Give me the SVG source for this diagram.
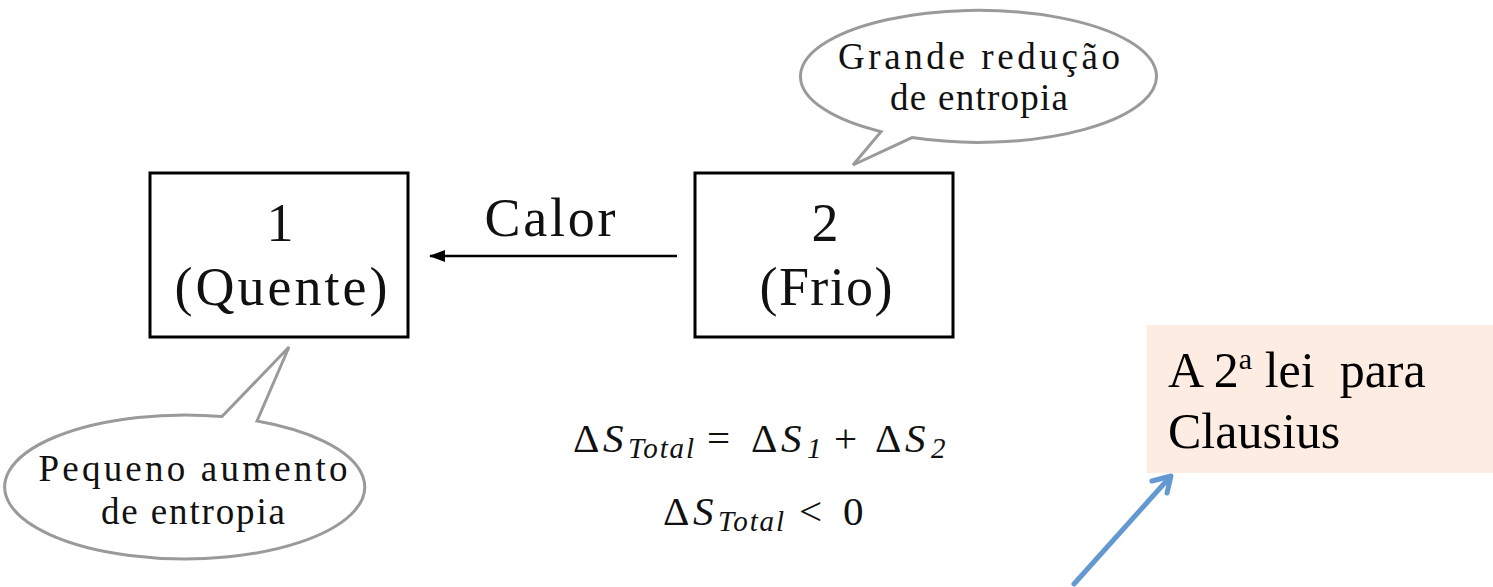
<svg xmlns="http://www.w3.org/2000/svg" width="1493" height="587" viewBox="0 0 1493 587">
<style>
.box{fill:#fff;stroke:#000;stroke-width:3}
.call{fill:#fff;stroke:#9a9a9a;stroke-width:3;stroke-linejoin:miter}
.t{font-family:"Liberation Serif","DejaVu Serif",serif;fill:#111;text-anchor:middle}
.big{font-size:54px}
.mid{font-size:37px}
.eq{font-family:"Liberation Serif","DejaVu Serif",serif;fill:#111;font-size:41px}
.it{font-style:italic}
.sub{font-size:29px;font-style:italic}
.note{font-family:"Liberation Serif","DejaVu Serif",serif;fill:#000;font-size:50px;white-space:pre}
</style>
<defs>
<marker id="ah" markerWidth="16" markerHeight="12" refX="15" refY="6" orient="auto" markerUnits="userSpaceOnUse">
<path d="M0,0 L16,6 L0,12 Z" fill="#000"/>
</marker>
</defs>
<rect width="1493" height="587" fill="#fff"/>

<g id="connectors">
<line x1="677" y1="256" x2="430" y2="256" stroke="#000" stroke-width="2.5" marker-end="url(#ah)"/>
<g id="blue-arrow" stroke="#6398D0" stroke-width="5" fill="none" stroke-linecap="round" stroke-linejoin="round">
<line x1="1074" y1="584" x2="1170" y2="477"/>
<polyline points="1152,481 1171,476 1167,493"/>
</g>
</g>

<g id="callout-top">
<path class="call" d="M 912 137.6 A 178 66 0 1 0 881 131.6 L 853 165 Z"/>
<text class="t mid" x="979" y="69" textLength="282">Grande redução</text>
<text class="t mid" x="979" y="110" textLength="178">de entropia</text>
</g>

<g id="callout-bottom">
<path class="call" d="M 257 421 A 180 72 0 1 1 222 416.5 L 289 347 Z"/>
<text class="t mid" x="193" y="481" textLength="309">Pequeno aumento</text>
<text class="t mid" x="193" y="524" textLength="184">de entropia</text>
</g>

<g id="node1">
<rect class="box" x="150" y="173" width="258" height="164"/>
<text class="t big" x="280" y="241">1</text>
<text class="t big" x="281" y="305" textLength="213">(Quente)</text>
</g>

<g id="node2">
<rect class="box" x="695" y="173" width="258" height="164"/>
<text class="t big" x="825" y="241">2</text>
<text class="t big" x="826" y="305" textLength="133">(Frio)</text>
</g>

<text class="t big" x="550" y="236" textLength="131">Calor</text>

<g id="equation1">
<text class="eq" y="452"><tspan x="573">Δ</tspan><tspan x="603" class="it">S</tspan><tspan x="628" y="458" class="sub" textLength="66">Total</tspan><tspan x="707" y="452">=</tspan><tspan x="751">Δ</tspan><tspan x="781" class="it">S</tspan><tspan x="807" y="458" class="sub">1</tspan><tspan x="834" y="452">+</tspan><tspan x="875">Δ</tspan><tspan x="905" class="it">S</tspan><tspan x="931" y="458" class="sub">2</tspan></text>
</g>

<g id="equation2">
<text class="eq" y="525"><tspan x="663">Δ</tspan><tspan x="693" class="it">S</tspan><tspan x="718" y="531" class="sub" textLength="66">Total</tspan><tspan x="799" y="525">&lt;</tspan><tspan x="843">0</tspan></text>
</g>

<g id="note">
<rect x="1147" y="325" width="346" height="148" fill="#FDECE1"/>
<text class="note" x="1168" y="387">A 2<tspan font-size="30" dy="-18">a</tspan><tspan dy="18"> lei  para</tspan></text>
<text class="note" x="1168" y="448">Clausius</text>
</g>
</svg>
